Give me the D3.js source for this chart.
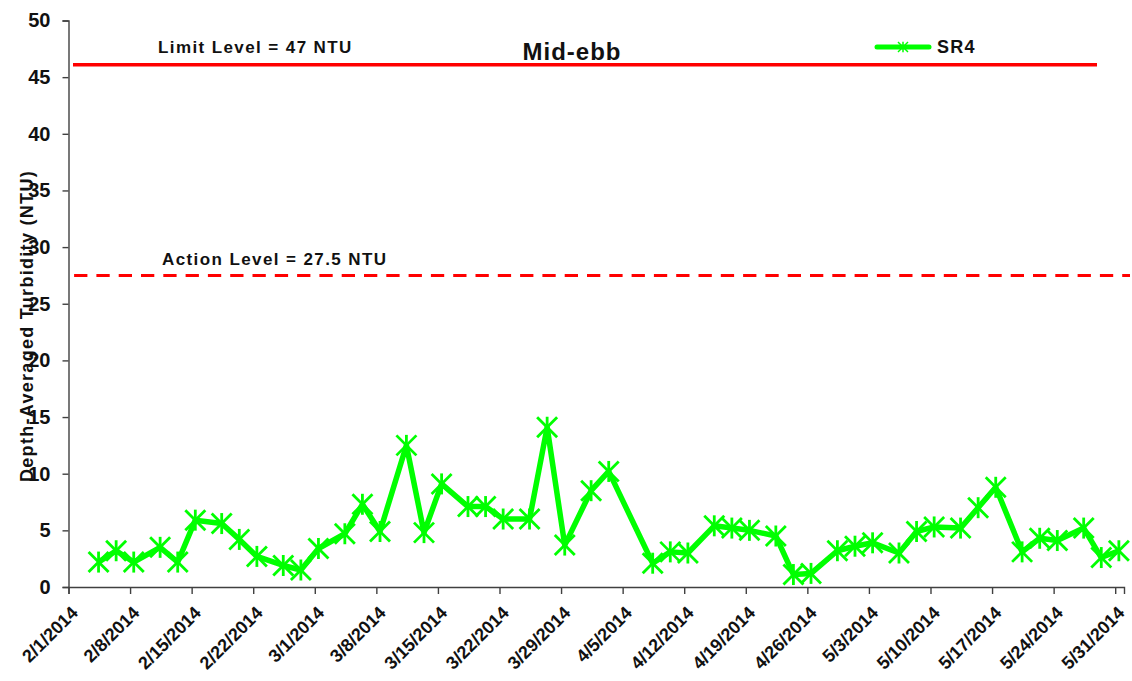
<!DOCTYPE html>
<html><head><meta charset="utf-8">
<script src="https://cdn.jsdelivr.net/npm/d3@7"></script>
<style>body{margin:0;background:#fff}svg text{font-family:"Liberation Sans",Arial,sans-serif;font-weight:bold}</style>
</head><body>
<svg id="c" width="1132" height="681"></svg>
<script>
const dates = ["2014-02-04","2014-02-06","2014-02-08","2014-02-11","2014-02-13","2014-02-15","2014-02-18","2014-02-20","2014-02-22","2014-02-25","2014-02-27","2014-03-01","2014-03-04","2014-03-06","2014-03-08","2014-03-11","2014-03-13","2014-03-15","2014-03-18","2014-03-20","2014-03-22","2014-03-25","2014-03-27","2014-03-29","2014-04-01","2014-04-03","2014-04-08","2014-04-10","2014-04-12","2014-04-15","2014-04-17","2014-04-19","2014-04-22","2014-04-24","2014-04-26","2014-04-29","2014-05-01","2014-05-03","2014-05-06","2014-05-08","2014-05-10","2014-05-13","2014-05-15","2014-05-17","2014-05-20","2014-05-22","2014-05-24","2014-05-27","2014-05-29","2014-05-31"];
const sampleTime = "T10:00:00";
const sr4 = [2.2,3.2,2.2,3.5,2.2,5.9,5.6,4.2,2.7,1.9,1.5,3.4,4.7,7.3,4.9,12.5,4.8,9.1,7.1,7.1,6.0,6.0,14.1,3.7,8.5,10.2,2.1,3.1,3.0,5.4,5.2,5.0,4.5,1.1,1.2,3.2,3.6,3.9,3.0,4.9,5.3,5.2,7.0,8.8,3.1,4.3,4.1,5.2,2.6,3.2];
const yTicks = [0,5,10,15,20,25,30,35,40,45,50];
const xTickDates = ["2014-02-01","2014-02-08","2014-02-15","2014-02-22","2014-03-01","2014-03-08","2014-03-15","2014-03-22","2014-03-29","2014-04-05","2014-04-12","2014-04-19","2014-04-26","2014-05-03","2014-05-10","2014-05-17","2014-05-24","2014-05-31"];
const limitLevel = 46.1, actionLevel = 27.5;
const limitLabel = "Limit Level = 47 NTU", actionLabel = "Action Level = 27.5 NTU";
const title = "Mid-ebb", seriesName = "SR4", yLabel = "Depth-Averaged Turbidity (NTU)";

const svg = d3.select("#c");
const parse = d3.timeParse("%Y-%m-%dT%H:%M:%S");
const parseDay = d3.timeParse("%Y-%m-%d");
const fmt = d => (d.getMonth()+1)+"/"+d.getDate()+"/"+d.getFullYear();

const x = d3.scaleTime().domain([parseDay("2014-02-01"), parseDay("2014-06-01")]).range([68.5, 1124]);
const y = d3.scaleLinear().domain([0,50]).range([587, 20.5]);
const green = "#00ff00", red = "#ff0000", ink = "#111";

// y axis
const ya = svg.append("g").attr("transform","translate(68.5,0)")
  .call(d3.axisLeft(y).tickValues(yTicks).tickSizeOuter(0).tickSize(6).tickPadding(12));
ya.select(".domain").attr("stroke","#404040").attr("stroke-width",1.4);
ya.selectAll(".tick line").attr("stroke","#404040").attr("stroke-width",1.4);
ya.selectAll(".tick text").attr("font-size",20).attr("fill",ink).style("font-family","Liberation Sans, Arial").style("font-weight","bold");

// x axis
const xa = svg.append("g").attr("transform","translate(0,587)")
  .call(d3.axisBottom(x).tickValues(xTickDates.map(parseDay)).tickFormat(fmt).tickSizeOuter(0).tickSize(7));
xa.select(".domain").attr("stroke","#404040").attr("stroke-width",1.4);
xa.selectAll(".tick line").attr("stroke","#404040").attr("stroke-width",1.4);
xa.selectAll(".tick text").attr("font-size",18).attr("fill",ink)
  .style("font-family","Liberation Sans, Arial").style("font-weight","bold")
  .attr("text-anchor","end").attr("dy",0).attr("y",0)
  .attr("transform","translate(10,27) rotate(-45)");

// reference lines
svg.append("line").attr("x1",73).attr("x2",1097).attr("y1",y(limitLevel)).attr("y2",y(limitLevel))
  .attr("stroke",red).attr("stroke-width",3.4);
svg.append("line").attr("x1",68.5).attr("x2",1130).attr("y1",y(actionLevel)).attr("y2",y(actionLevel))
  .attr("stroke",red).attr("stroke-width",3).attr("stroke-dasharray","13.3,9").attr("stroke-dashoffset",16.7);
svg.append("text").attr("x",158).attr("y",53).attr("font-size",17).attr("letter-spacing",1.4).attr("fill",ink).text(limitLabel);
svg.append("text").attr("x",162).attr("y",265).attr("font-size",17).attr("letter-spacing",1.4).attr("fill",ink).text(actionLabel);
svg.append("text").attr("x",572).attr("y",60).attr("text-anchor","middle").attr("font-size",24).attr("letter-spacing",1).attr("fill",ink).text(title);

// y label
svg.append("text").attr("transform","translate(33,326) rotate(-90)").attr("text-anchor","middle")
  .attr("font-size",18).attr("letter-spacing",1.3).attr("fill",ink).text(yLabel);

// series
const data = dates.map((d,i)=>({t:parse(d+sampleTime), v:sr4[i]}));
svg.append("path").datum(data).attr("fill","none").attr("stroke",green).attr("stroke-width",5.5)
  .attr("stroke-linejoin","round")
  .attr("d", d3.line().x(d=>x(d.t)).y(d=>y(d.v)));
const star = (g, s, w) => {
  g.append("line").attr("x1",-s).attr("y1",-s).attr("x2",s).attr("y2",s);
  g.append("line").attr("x1",-s).attr("y1",s).attr("x2",s).attr("y2",-s);
  g.append("line").attr("x1",0).attr("y1",-s*1.05).attr("x2",0).attr("y2",s*1.05);
  g.attr("stroke",green).attr("stroke-width",w);
};
data.forEach(d=>{
  const g = svg.append("g").attr("transform",`translate(${x(d.t)},${y(d.v)})`);
  star(g, 10, 2.8);
});

// legend
svg.append("line").attr("x1",877).attr("x2",929).attr("y1",47).attr("y2",47).attr("stroke",green).attr("stroke-width",5).attr("stroke-linecap","round");
star(svg.append("g").attr("transform","translate(903,47)"), 5, 1.5);
svg.append("text").attr("x",937).attr("y",53).attr("font-size",18).attr("letter-spacing",1.3).attr("fill",ink).text(seriesName);
</script>
</body></html>
